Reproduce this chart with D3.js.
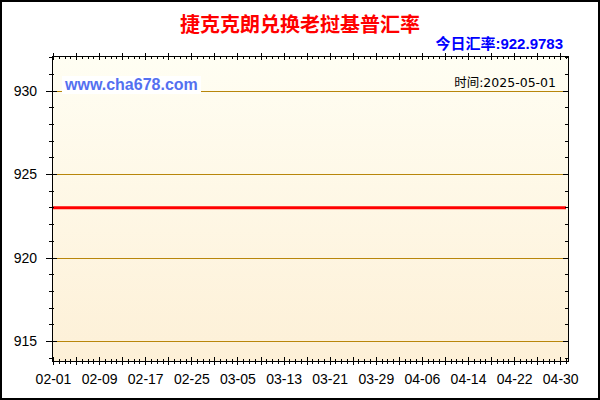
<!DOCTYPE html>
<html>
<head>
<meta charset="utf-8">
<script src="https://cdn.jsdelivr.net/npm/d3@7"></script>
<style>
	body { margin: 0; background: #fff; }
	svg { display: block; }
	.tick text { font-family: "Liberation Sans", Arial, sans-serif; font-size: 14px; fill: #000; }
	.tick line { stroke: #000; shape-rendering: crispEdges; }
	.domain { display: none; }
</style>
</head>
<body>
<svg id="chart" width="600" height="400"></svg>
<script>
const TITLE = '捷克克朗兑换老挝基普汇率';
const TODAY_LABEL = '今日汇率:922.9783';
const TIME_LABEL = '时间:2025-05-01';
const SITE_LABEL = 'www.cha678.com';

// first and last day of the series
const START_DATE = '2025-02-01';
const END_DATE = '2025-05-01';

// one rate per day, 02-01 .. 05-01 (flat)
const RATES = [
	922.9783, 922.9783, 922.9783, 922.9783, 922.9783, 922.9783, 922.9783, 922.9783, 922.9783, 922.9783,
	922.9783, 922.9783, 922.9783, 922.9783, 922.9783, 922.9783, 922.9783, 922.9783, 922.9783, 922.9783,
	922.9783, 922.9783, 922.9783, 922.9783, 922.9783, 922.9783, 922.9783, 922.9783, 922.9783, 922.9783,
	922.9783, 922.9783, 922.9783, 922.9783, 922.9783, 922.9783, 922.9783, 922.9783, 922.9783, 922.9783,
	922.9783, 922.9783, 922.9783, 922.9783, 922.9783, 922.9783, 922.9783, 922.9783, 922.9783, 922.9783,
	922.9783, 922.9783, 922.9783, 922.9783, 922.9783, 922.9783, 922.9783, 922.9783, 922.9783, 922.9783,
	922.9783, 922.9783, 922.9783, 922.9783, 922.9783, 922.9783, 922.9783, 922.9783, 922.9783, 922.9783,
	922.9783, 922.9783, 922.9783, 922.9783, 922.9783, 922.9783, 922.9783, 922.9783, 922.9783, 922.9783,
	922.9783, 922.9783, 922.9783, 922.9783, 922.9783, 922.9783, 922.9783, 922.9783, 922.9783, 922.9783
];

const X_TICK_LABELS = ['02-01', '02-09', '02-17', '02-25', '03-05', '03-13', '03-21', '03-29', '04-06', '04-14', '04-22', '04-30'];
const Y_TICKS = [915, 920, 925, 930];
const Y_DOMAIN = [913.8, 932.08];

const parseDay = d3.timeParse('%Y-%m-%d');

const svg = d3.select('#chart');

// plot box
const box = { left: 52, right: 568, top: 56, bottom: 361 };

// outer frame
svg.append('rect')
	.attr('x', 1).attr('y', 1)
	.attr('width', 598).attr('height', 398)
	.attr('fill', '#fff')
	.attr('stroke', '#000')
	.attr('stroke-width', 2);

const defs = svg.append('defs');
const grad = defs.append('linearGradient')
	.attr('id', 'bg')
	.attr('x1', 0).attr('y1', 0).attr('x2', 0).attr('y2', 1);
grad.append('stop').attr('offset', '0%').attr('stop-color', '#fffef3');
grad.append('stop').attr('offset', '100%').attr('stop-color', '#fdf0d7');

svg.append('rect')
	.attr('x', box.left).attr('y', box.top)
	.attr('width', box.right - box.left)
	.attr('height', box.bottom - box.top)
	.attr('fill', 'url(#bg)');

// scales
const start = parseDay(START_DATE);
const end = parseDay(END_DATE);
const days = d3.timeDay.range(start, d3.timeDay.offset(end, 1));
const data = days.map((d, i) => ({ date: d, value: RATES[i] }));

const x = d3.scaleTime()
	.domain([start, end])
	.range([53, 566]);

const y = d3.scaleLinear()
	.domain(Y_DOMAIN)
	.range([box.bottom, box.top]);

// grid lines
svg.append('g')
	.selectAll('line')
	.data(Y_TICKS)
	.enter().append('line')
	.attr('x1', box.left)
	.attr('x2', box.right)
	.attr('y1', d => Math.round(y(d)) + 0.5)
	.attr('y2', d => Math.round(y(d)) + 0.5)
	.attr('stroke', '#b8860b')
	.attr('stroke-width', 1);

// site label with white box
svg.append('rect')
	.attr('x', 62).attr('y', 76)
	.attr('width', 139).attr('height', 18)
	.attr('fill', '#fff');
svg.append('text')
	.attr('x', 65).attr('y', 90)
	.attr('font-family', '"Liberation Sans", Arial, sans-serif')
	.attr('font-size', 16)
	.attr('font-weight', 'bold')
	.attr('fill', '#5470f0')
	.text(SITE_LABEL);

svg.append('text')
	.attr('x', 556).attr('y', 86.5)
	.attr('text-anchor', 'end')
	.attr('font-family', '"DejaVu Sans", "Noto Sans CJK SC", sans-serif')
	.attr('font-size', 12.5)
	.attr('fill', '#000')
	.text(TIME_LABEL);

// rate line
const line = d3.line()
	.x(d => x(d.date))
	.y(d => y(d.value));

svg.append('path')
	.datum(data)
	.attr('d', line)
	.attr('fill', 'none')
	.attr('stroke', '#ff0000')
	.attr('stroke-width', 3);

// frame of the plot
svg.append('rect')
	.attr('x', box.left + 0.5).attr('y', box.top + 0.5)
	.attr('width', box.right - box.left)
	.attr('height', box.bottom - box.top)
	.attr('fill', 'none')
	.attr('stroke', '#000')
	.attr('stroke-width', 1);

// y axes
const yMinor = d3.range(Math.ceil(Y_DOMAIN[0]), Math.floor(Y_DOMAIN[1]) + 1);

svg.append('g')
	.attr('transform', `translate(${box.left},0)`)
	.call(d3.axisLeft(y).tickValues(yMinor).tickSize(3).tickSizeOuter(0).tickFormat(''))
	.selectAll('.tick line').attr('x1', 2);

svg.append('g')
	.attr('transform', `translate(${box.left},0)`)
	.call(d3.axisLeft(y).tickValues(Y_TICKS).tickSize(6).tickPadding(9).tickSizeOuter(0))
	.selectAll('.tick line').attr('x1', 5);

svg.append('g')
	.attr('transform', `translate(${box.right},0)`)
	.call(d3.axisRight(y).tickValues(yMinor).tickSize(-3).tickSizeOuter(0).tickFormat(''));

svg.append('g')
	.attr('transform', `translate(${box.right},0)`)
	.call(d3.axisRight(y).tickValues(Y_TICKS).tickSize(-5).tickSizeOuter(0).tickFormat(''));

// x axes
const dayTicks = d3.timeDay.range(start, d3.timeDay.offset(end, 1));
const majorTicks = d3.timeDay.range(start, d3.timeDay.offset(end, 1), 4);
const labelDates = X_TICK_LABELS.map(s => parseDay('2025-' + s));

svg.append('g')
	.attr('transform', `translate(0,${box.bottom})`)
	.call(d3.axisBottom(x).tickValues(dayTicks).tickSize(3).tickSizeOuter(0).tickFormat(''))
	.selectAll('.tick line').attr('y1', -2);

svg.append('g')
	.attr('transform', `translate(0,${box.bottom})`)
	.call(d3.axisBottom(x).tickValues(majorTicks).tickSize(4).tickSizeOuter(0).tickFormat(''))
	.selectAll('.tick line').attr('y1', -4);

svg.append('g')
	.attr('transform', `translate(0,${box.bottom})`)
	.call(d3.axisBottom(x).tickValues(labelDates).tickSize(4).tickPadding(9).tickSizeOuter(0)
		.tickFormat((d, i) => X_TICK_LABELS[i]))
	.selectAll('.tick line').attr('y1', -4);

svg.append('g')
	.attr('transform', `translate(0,${box.top})`)
	.call(d3.axisTop(x).tickValues(dayTicks).tickSize(-3).tickSizeOuter(0).tickFormat(''));

svg.append('g')
	.attr('transform', `translate(0,${box.top})`)
	.call(d3.axisTop(x).tickValues(majorTicks).tickSize(3).tickSizeOuter(0).tickFormat(''))
	.selectAll('.tick line').attr('y1', 4);

// titles
svg.append('text')
	.attr('x', 300).attr('y', 32)
	.attr('text-anchor', 'middle')
	.attr('font-family', '"Noto Sans CJK SC", sans-serif')
	.attr('font-size', 20)
	.attr('font-weight', 'bold')
	.attr('fill', '#ff0000')
	.text(TITLE);

svg.append('text')
	.attr('x', 563).attr('y', 48.5)
	.attr('text-anchor', 'end')
	.attr('font-family', '"Liberation Sans", "Noto Sans CJK SC", sans-serif')
	.attr('font-size', 15)
	.attr('font-weight', 'bold')
	.attr('fill', '#0000ff')
	.text(TODAY_LABEL);
</script>
</body>
</html>
